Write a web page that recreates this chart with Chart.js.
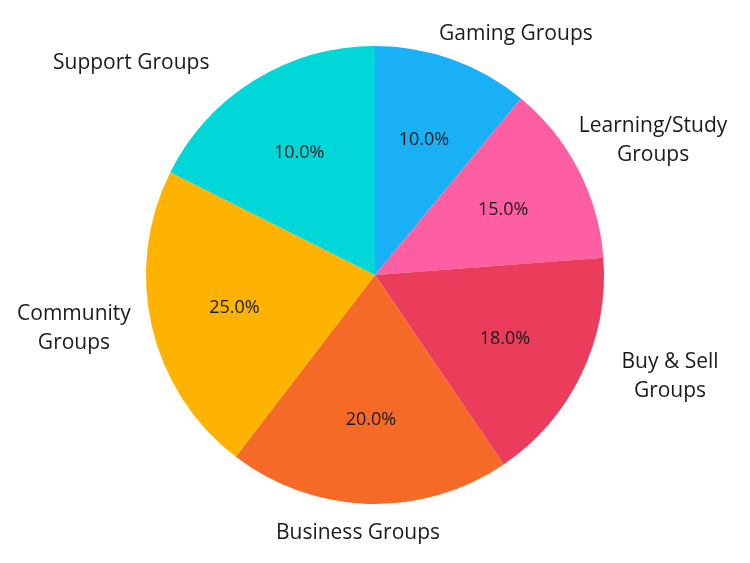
<!DOCTYPE html>
<html>
<head>
<meta charset="utf-8">
<script src="https://cdn.jsdelivr.net/npm/chart.js@4"></script>
<style>
  body { margin: 0; background: #ffffff; }
  #wrap { width: 750px; height: 563px; position: relative; }
</style>
</head>
<body>
<div id="wrap"><canvas id="pie"></canvas></div>
<script>
// Categories in clockwise order starting from 12 o'clock
const groups = [
    ["Gaming Groups"],
    ["Learning/Study", "Groups"],
    ["Buy & Sell", "Groups"],
    ["Business Groups"],
    ["Community", "Groups"],
    ["Support Groups"],
];
// slice sizes as drawn in the picture (share of the circle, %)
const sliceShares = [11.0, 12.8, 16.7, 19.9, 22.0, 17.6];
// percentages printed on the slices
const printedPct = [10.0, 15.0, 18.0, 20.0, 25.0, 10.0];
const sliceColors = ["#1ab0f5", "#fe5fa2", "#ec3c5c", "#f56a26", "#feb301", "#01d7d8"];

// where the outside names sit: angle (deg, clockwise from top) and distance (x radius)
const nameAngles = [30.1, 63.9, 108.7, 183.8, 260.2, 311.3];
const nameDist = [1.227, 1.352, 1.36, 1.12, 1.334, 1.417];

const FONT = "'Open Sans', 'Noto Sans', sans-serif";

const sliceText = {
    id: "sliceText",
    afterDatasetsDraw(chart) {
        const ctx = chart.ctx;
        const arcs = chart.getDatasetMeta(0).data;
        ctx.save();
        ctx.fillStyle = "#1a1a1a";
        ctx.textAlign = "center";
        ctx.textBaseline = "middle";
        arcs.forEach((arc, i) => {
            const mid = (arc.startAngle + arc.endAngle) / 2;
            const r = arc.outerRadius * 0.63;
            ctx.font = "18px " + FONT;
            ctx.fillText(printedPct[i].toFixed(1) + "%", arc.x + Math.cos(mid) * r, arc.y + Math.sin(mid) * r + 1);

            // category name outside the pie
            const a = (nameAngles[i] - 90) * Math.PI / 180;
            const d = arc.outerRadius * nameDist[i];
            const cx = arc.x + Math.cos(a) * d;
            const cy = arc.y + Math.sin(a) * d + 2;
            const lines = groups[i];
            const lh = 29;
            ctx.font = "21px " + FONT;
            lines.forEach((ln, k) => {
                ctx.fillText(ln, cx, cy + (k - (lines.length - 1) / 2) * lh);
            });
        });
        ctx.restore();
    },
};

new Chart(document.getElementById("pie"), {
    type: "pie",
    data: {
        labels: groups.map((g) => g.join(" ")),
        datasets: [{
            data: sliceShares,
            backgroundColor: sliceColors,
            borderWidth: 0,
        }],
    },
    options: {
        responsive: true,
        maintainAspectRatio: false,
        animation: false,
        layout: {
            padding: { top: 46, bottom: 59, left: 100, right: 100 },
        },
        plugins: {
            legend: { display: false },
            tooltip: { enabled: false },
        },
    },
    plugins: [sliceText],
});
</script>
</body>
</html>
